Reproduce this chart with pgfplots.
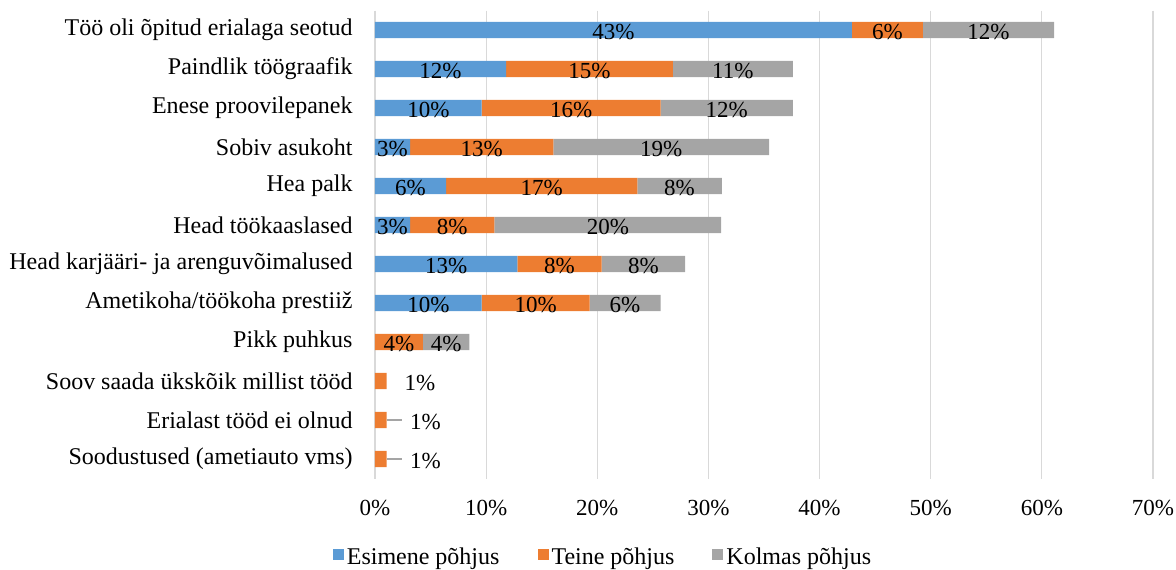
\documentclass[border=0pt]{standalone}
\usepackage{fontspec}
\setmainfont{Liberation Serif}
\usepackage{pgfplots}
\pgfplotsset{compat=1.18}
\usepackage{pgfplotstable}

\definecolor{cblue}{HTML}{5B9BD5}
\definecolor{corange}{HTML}{ED7D31}
\definecolor{cgray}{HTML}{A5A5A5}
\definecolor{cgrid}{HTML}{D9D9D9}

\pgfplotstableread{
row a b c
1 42.9 6.4 11.8
2 11.8 15.0 10.8
3 9.6 16.1 11.9
4 3.15 12.9 19.4
5 6.4 17.2 7.6
6 3.15 7.6 20.4
7 12.8 7.6 7.5
8 9.6 9.7 6.4
9 0 4.3 4.2
10 0 1.05 0
11 0 1.05 0
12 0 1.05 0
}\data

\pgfplotsset{
  base/.style={scale only axis, width=389pt, height=234pt,
    xmin=0, xmax=70, ymin=0.5, ymax=12.5, y dir=reverse},
  /pgf/number format/assume math mode=true,
  lbl/.style={draw=none, mark=none, point meta=explicit,
    nodes near coords={\pgfmathprintnumber[fixed,precision=0]{\pgfplotspointmeta}\%},
    every node near coord/.style={anchor=center, text=black, inner sep=0pt,
      yshift=-1.2pt, font=\fontsize{11.5}{13}\selectfont}},
}

\begin{document}
\begin{tikzpicture}
\useasboundingbox (-187.5pt,-45.25pt) rectangle (400.5pt,239.25pt);
\begin{axis}[base,
  xbar stacked, bar width=8.2pt,
  axis line style={draw=none},
  major tick length=0pt,
  xmajorgrids, grid style={cgrid, line width=0.6pt},
  xtick={0,10,...,70},
  xticklabels={0\%,10\%,20\%,30\%,40\%,50\%,60\%,70\%},
  xticklabel style={anchor=center, yshift=-14.75pt, font=\fontsize{11.5}{13}\selectfont},
  ytick={1,...,12},
  yticklabels={Töö oli õpitud erialaga seotud, Paindlik töögraafik, Enese proovilepanek, Sobiv asukoht, Hea palk, Head töökaaslased, Head karjääri- ja arenguvõimalused, Ametikoha/töökoha prestiiž, Pikk puhkus, Soov saada ükskõik millist tööd, Erialast tööd ei olnud, Soodustused (ametiauto vms)},
  yticklabel style={anchor=east, inner sep=0pt, xshift=-11pt, font=\fontsize{12}{14}\selectfont},
  legend style={at={(0.2937,-0.1699)}, anchor=center, draw=none, fill=none,
    legend columns=3, font=\fontsize{12}{14}\selectfont,
    /tikz/every even column/.append style={column sep=17.5pt},
    nodes={inner sep=1.5pt}},
  legend image code/.code={\fill[#1] (0pt,-1.2pt) rectangle (5.5pt,4.3pt);},
]
\addplot[fill=cblue, draw=none] table[x=a, y=row]{\data};
\addlegendentry{Esimene põhjus}
\addplot[fill=corange, draw=none] table[x=b, y=row]{\data};
\addlegendentry{Teine põhjus}
\addplot[fill=cgray, draw=none] table[x=c, y=row]{\data};
\addlegendentry{Kolmas põhjus}
\end{axis}
\begin{axis}[base, hide axis, clip=false]
\addplot[lbl, skip coords between index={8}{12}]
  table[x expr=\thisrow{a}/2, y=row, meta=a]{\data};
\addplot[lbl, skip coords between index={9}{12}]
  table[x expr=\thisrow{a}+\thisrow{b}/2, y=row, meta=b]{\data};
\addplot[lbl, skip coords between index={9}{12}]
  table[x expr=\thisrow{a}+\thisrow{b}+\thisrow{c}/2, y=row, meta=c]{\data};
\addplot[lbl] coordinates {(4.05,10) [1] (4.53,11) [1] (4.53,12) [1]};
\addplot[cgray, line width=0.6pt, mark=none] coordinates {(1.05,11) (2.4,11)};
\addplot[cgray, line width=0.6pt, mark=none] coordinates {(1.05,12) (2.4,12)};
\end{axis}
\end{tikzpicture}
\end{document}
